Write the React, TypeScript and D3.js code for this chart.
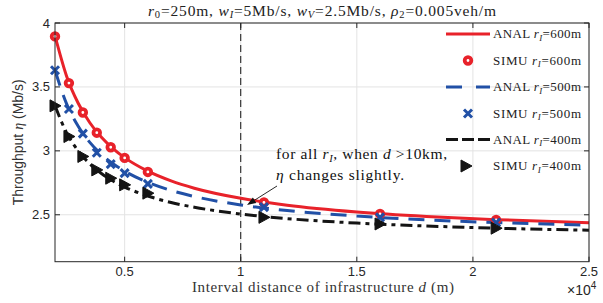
import React from "react";
import * as d3 from "d3";

// ---- data ----
const anaD = [2000, 2500, 3000, 3500, 4000, 4500, 5000, 6000, 7000, 8000, 10000, 12000, 15000, 18000, 21000, 25000];
const ana600 = [3.9, 3.584, 3.372, 3.22, 3.106, 3.018, 2.947, 2.841, 2.765, 2.708, 2.629, 2.575, 2.522, 2.487, 2.462, 2.437];
const ana500 = [3.63, 3.367, 3.192, 3.066, 2.972, 2.899, 2.841, 2.753, 2.69, 2.643, 2.577, 2.533, 2.49, 2.46, 2.439, 2.419];
const ana400 = [3.352, 3.141, 3.0, 2.899, 2.823, 2.764, 2.717, 2.647, 2.596, 2.559, 2.506, 2.47, 2.435, 2.412, 2.395, 2.379];

const simD = [2000, 2600, 3200, 3800, 4400, 5000, 6000, 11000, 16000, 21000];
const sim600 = [3.895, 3.53, 3.3, 3.142, 3.028, 2.945, 2.835, 2.597, 2.507, 2.46];
const sim500 = [3.63, 3.327, 3.135, 2.985, 2.896, 2.826, 2.742, 2.56, 2.48, 2.44];
const sim400 = [3.352, 3.112, 2.956, 2.851, 2.786, 2.734, 2.669, 2.48, 2.428, 2.395];

const xTicks = [5000, 10000, 15000, 20000, 25000];
const xTickLabels = ["0.5", "1", "1.5", "2", "2.5"];
const yTicks = [2.5, 3, 3.5, 4];
const yTickLabels = ["2.5", "3", "3.5", "4"];

const RED = "#e8222a";
const BLUE = "#2150a6";
const BLACK = "#141414";
const AX = "#262626";
const GRID = "#e3e3e3";
const SERIF = "'Liberation Serif', 'Times New Roman', serif";
const SANS = "'Liberation Sans', Arial, Helvetica, sans-serif";

const L = 55, R = 589, T = 23, B = 261.7;

export default function App() {
  const x = d3.scaleLinear().domain([2000, 25000]).range([L, R]);
  const y = d3.scaleLinear().domain([2.133, 4]).range([B, T]);
  const line = (ys: number[]) =>
    d3.line<number>().x((_, i) => x(anaD[i])).y((v) => y(v)).curve(d3.curveMonotoneX)(ys) || "";

  const tri = (cx: number, cy: number) =>
    `M${cx - 5},${cy - 6}L${cx + 6},${cy}L${cx - 5},${cy + 6}Z`;
  const cross = (cx: number, cy: number, s = 4) =>
    `M${cx - s},${cy - s}L${cx + s},${cy + s}M${cx - s},${cy + s}L${cx + s},${cy - s}`;

  const legY = [34, 60.5, 87, 113.5, 139.5, 166];
  const legX0 = 446, legX1 = 490, legTX = 493, legMX = 468;

  const arrowTail = [277, 186];
  const arrowHead = [247, 205];
  const ang = Math.atan2(arrowHead[1] - arrowTail[1], arrowHead[0] - arrowTail[0]);
  const ah = 9, aw = 3.2;
  const bx = arrowHead[0] - ah * Math.cos(ang), by = arrowHead[1] - ah * Math.sin(ang);
  const headPath = `M${arrowHead[0]},${arrowHead[1]}L${bx + aw * Math.sin(ang)},${by - aw * Math.cos(ang)}L${bx - aw * Math.sin(ang)},${by + aw * Math.cos(ang)}Z`;

  const legText = (ry: number, kind: string, r: string) => (
    <text x={legTX} y={ry + 4.3} fontFamily={SERIF} fontSize={13} fill="#222" textLength={88} lengthAdjust="spacing">
      {kind} <tspan fontStyle="italic">r</tspan>
      <tspan fontStyle="italic" fontSize={9} dy={2.5}>I</tspan>
      <tspan dy={-2.5}>={r}</tspan>
    </text>
  );

  return (
    <svg width={603} height={303} style={{ position: "absolute", left: 0, top: 0, background: "#fff" }}>
      <rect x={0} y={0} width={603} height={303} fill="#fff" />
      <defs>
        <clipPath id="plot">
          <rect x={L} y={T} width={R - L} height={B - T} />
        </clipPath>
      </defs>
      {/* grid */}
      {xTicks.map((t) => (
        <line key={"gx" + t} x1={x(t)} x2={x(t)} y1={T} y2={B} stroke={GRID} strokeWidth={1} />
      ))}
      {yTicks.map((t) => (
        <line key={"gy" + t} x1={L} x2={R} y1={y(t)} y2={y(t)} stroke={GRID} strokeWidth={1} />
      ))}
      {/* vertical dashed line at 10 km */}
      <line x1={x(10000)} x2={x(10000)} y1={T} y2={B} stroke="#111" strokeWidth={1} strokeDasharray="7,4" />

      {/* curves */}
      <g clipPath="url(#plot)" fill="none" strokeWidth={3}>
        <path d={line(ana600)} stroke={RED} />
        <path d={line(ana500)} stroke={BLUE} strokeDasharray="16,10" />
        <path d={line(ana400)} stroke={BLACK} strokeDasharray="12,5,4,5" />
      </g>
      {/* markers */}
      {simD.map((d, i) => (
        <circle key={"c" + i} cx={x(d)} cy={y(sim600[i])} r={3.3} fill="#fff" stroke={RED} strokeWidth={3.8} />
      ))}
      {simD.map((d, i) => (
        <path key={"x" + i} d={cross(x(d), y(sim500[i]))} stroke={BLUE} strokeWidth={3} fill="none" />
      ))}
      {simD.map((d, i) => (
        <path key={"t" + i} d={tri(x(d), y(sim400[i]))} fill={BLACK} stroke={BLACK} strokeWidth={1} />
      ))}

      {/* axes box */}
      <rect x={L} y={T} width={R - L} height={B - T} fill="none" stroke={AX} strokeWidth={1} />
      {xTicks.map((t) => (
        <g key={"xt" + t}>
          <line x1={x(t)} x2={x(t)} y1={B} y2={B - 5} stroke={AX} />
          <line x1={x(t)} x2={x(t)} y1={T} y2={T + 5} stroke={AX} />
        </g>
      ))}
      {yTicks.map((t) => (
        <g key={"yt" + t}>
          <line x1={L} x2={L + 5} y1={y(t)} y2={y(t)} stroke={AX} />
          <line x1={R} x2={R - 5} y1={y(t)} y2={y(t)} stroke={AX} />
        </g>
      ))}
      {xTicks.map((t, i) => (
        <text key={"xl" + t} x={x(t)} y={276} textAnchor="middle" fontFamily={SANS} fontSize={13} fill={AX}>
          {xTickLabels[i]}
        </text>
      ))}
      {yTicks.map((t, i) => (
        <text key={"yl" + t} x={L - 5} y={y(t) + 4.5} textAnchor="end" fontFamily={SANS} fontSize={13} fill={AX}>
          {yTickLabels[i]}
        </text>
      ))}
      <text x={567} y={295} fontFamily={SANS} fontSize={14} fill={AX}>
        ×10<tspan fontSize={10} dy={-6}>4</tspan>
      </text>

      {/* axis labels */}
      <text x={192} y={292} fontFamily={SERIF} fontSize={15} fill="#333" textLength={262} lengthAdjust="spacing">
        Interval distance of infrastructure <tspan fontStyle="italic">d</tspan> (m)
      </text>
      <text transform={`translate(23,${(T + B) / 2}) rotate(-90)`} textAnchor="middle" fontFamily={SANS} fontSize={14} fill="#333">
        Throughput <tspan fontFamily={SERIF} fontStyle="italic">η</tspan> (Mb/s)
      </text>

      {/* title */}
      <text x={148} y={15.5} fontFamily={SERIF} fontSize={15.5} fill="#222" textLength={348} lengthAdjust="spacing">
        <tspan fontStyle="italic">r</tspan><tspan fontSize={10.5} dy={2.5}>0</tspan>
        <tspan dy={-2.5}>=250m, </tspan>
        <tspan fontStyle="italic">w</tspan><tspan fontStyle="italic" fontSize={10.5} dy={2.5}>I</tspan>
        <tspan dy={-2.5}>=5Mb/s, </tspan>
        <tspan fontStyle="italic">w</tspan><tspan fontStyle="italic" fontSize={10.5} dy={2.5}>V</tspan>
        <tspan dy={-2.5}>=2.5Mb/s, </tspan>
        <tspan fontStyle="italic">ρ</tspan><tspan fontSize={10.5} dy={2.5}>2</tspan>
        <tspan dy={-2.5}>=0.005veh/m</tspan>
      </text>

      {/* annotation */}
      <text x={276} y={158.5} fontFamily={SERIF} fontSize={15.5} fill="#111" textLength={171} lengthAdjust="spacing">
        for all <tspan fontStyle="italic">r</tspan>
        <tspan fontStyle="italic" fontSize={10.5} dy={3}>I</tspan>
        <tspan dy={-3}>, when </tspan>
        <tspan fontStyle="italic">d</tspan> &gt;10km,
      </text>
      <text x={276} y={179.5} fontFamily={SERIF} fontSize={15.5} fill="#111" textLength={128} lengthAdjust="spacing">
        <tspan fontStyle="italic">η</tspan> changes slightly.
      </text>
      <line x1={arrowTail[0]} y1={arrowTail[1]} x2={bx} y2={by} stroke="#111" strokeWidth={0.9} />
      <path d={headPath} fill="#111" />

      {/* legend */}
      <line x1={legX0} x2={legX1} y1={legY[0]} y2={legY[0]} stroke={RED} strokeWidth={3} />
      {legText(legY[0], "ANAL", "600m")}
      <circle cx={legMX} cy={legY[1]} r={3.3} fill="#fff" stroke={RED} strokeWidth={3.8} />
      {legText(legY[1], "SIMU", "600m")}
      <line x1={legX0} x2={legX1} y1={legY[2]} y2={legY[2]} stroke={BLUE} strokeWidth={3} strokeDasharray="16,14" />
      {legText(legY[2], "ANAL", "500m")}
      <path d={cross(legMX, legY[3])} stroke={BLUE} strokeWidth={3} fill="none" />
      {legText(legY[3], "SIMU", "500m")}
      <line x1={legX0} x2={legX1} y1={legY[4]} y2={legY[4]} stroke={BLACK} strokeWidth={3} strokeDasharray="12,4" />
      {legText(legY[4], "ANAL", "400m")}
      <path d={tri(legMX - 2, legY[5])} fill={BLACK} stroke={BLACK} strokeWidth={1} />
      {legText(legY[5], "SIMU", "400m")}
    </svg>
  );
}
